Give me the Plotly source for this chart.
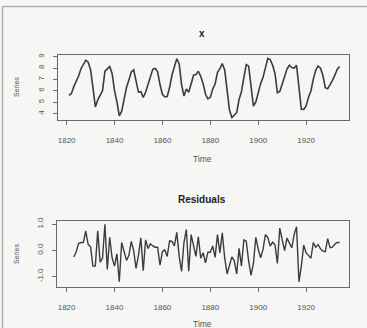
import plotly.graph_objects as go

# Annual series (log of lynx trappings), 1821-1934
years = list(range(1821, 1935))
x_values = [
    5.60, 5.77, 6.37, 6.77, 7.30, 7.94, 8.28, 8.69, 8.51, 7.85,
    6.26, 4.58, 5.21, 5.63, 6.01, 7.73, 7.90, 8.13, 7.51, 6.01,
    5.02, 3.81, 4.22, 5.36, 6.30, 6.94, 7.66, 7.84, 6.86, 5.89,
    5.93, 5.42, 5.89, 6.59, 7.40, 7.91, 7.96, 7.66, 6.53, 5.70,
    5.46, 5.50, 6.31, 7.39, 8.11, 8.81, 8.36, 6.53, 5.54, 6.16,
    5.88, 6.66, 7.37, 7.42, 7.72, 7.26, 6.63, 5.70, 5.30, 5.43,
    6.15, 6.60, 7.62, 7.94, 8.40, 7.83, 5.96, 4.29, 3.66, 3.89,
    4.08, 5.24, 5.93, 7.16, 8.30, 8.16, 6.38, 4.65, 5.03, 5.96,
    6.63, 7.18, 8.15, 8.85, 8.75, 8.24, 7.52, 5.84, 5.95, 6.70,
    7.24, 7.91, 8.24, 8.04, 8.00, 8.24, 6.51, 4.39, 4.38, 4.68,
    5.43, 5.99, 7.03, 7.80, 8.18, 7.98, 7.34, 6.27, 6.18, 6.50,
    6.91, 7.37, 7.89, 8.13,
]

# Residuals, 1823-1934
res_years = list(range(1823, 1935))
residuals = [
    -0.25, -0.05, 0.26, 0.30, 0.30, 0.74, 0.23, 0.14, -0.60, -0.60,
    0.75, -0.45, -0.30, 1.00, -0.73, 0.50, -0.28, -0.60, -0.13, -1.20,
    0.30, -0.05, -0.38, -0.20, 0.34, -0.01, -0.69, -0.19, 0.48, -0.78,
    0.40, 0.07, 0.25, 0.17, 0.12, 0.12, -0.56, -0.05, 0.02, -0.23,
    0.36, 0.34, 0.17, 0.69, -0.22, -0.80, 0.30, 0.80, -0.80, 0.60,
    0.12, -0.23, 0.52, -0.30, -0.09, -0.48, -0.07, -0.07, 0.17, -0.27,
    0.60, -0.10, 0.67, -0.29, -0.90, -0.55, -0.25, -0.40, -0.90, 0.08,
    -0.60, 0.40, 0.35, -0.40, -0.95, -0.50, 0.50, 0.05, -0.28, 0.03,
    0.60, 0.50, 0.16, 0.31, 0.21, -0.50, 0.85, 0.41, -0.01, 0.47,
    0.28, 0.10, 0.60, 0.90, -1.20, -0.60, 0.20, -0.10, -0.19, -0.30,
    0.30, 0.12, 0.22, 0.06, -0.03, -0.05, 0.45, 0.10, 0.12, 0.24,
    0.30, 0.30,
]

x_ticks = [1820, 1840, 1860, 1880, 1900, 1920]
top_y_ticks = [4, 5, 6, 7, 8, 9]
top_y_labels = ["4", "5", "6", "7", "8", "9"]
bot_y_ticks = [-1.0, 0.0, 1.0]
bot_y_labels = ["-1.0", "0.0", "1.0"]

W, H = 367, 328
FONT = "Liberation Sans, Arial, sans-serif"
LINE = "#3c3c3c"
AX = "#6a6a6a"
TXT = "#555555"

fig = go.Figure()
fig.add_trace(go.Scatter(x=years, y=x_values, mode="lines",
                         line=dict(color=LINE, width=1.6),
                         xaxis="x", yaxis="y", showlegend=False))
fig.add_trace(go.Scatter(x=res_years, y=residuals, mode="lines",
                         line=dict(color=LINE, width=1.4),
                         xaxis="x2", yaxis="y2", showlegend=False))

def px_x(p):
    return p / W

def px_y(p):
    return 1 - p / H

common_x = dict(showline=True, linecolor=AX, linewidth=1, mirror=True,
                ticks="outside", ticklen=4, tickcolor=AX, tickwidth=1,
                showgrid=False, zeroline=False, tickvals=x_ticks,
                ticktext=[str(v) for v in x_ticks],
                tickfont=dict(family=FONT, size=8, color=TXT),
                ticklabelstandoff=9)
common_y = dict(showline=True, linecolor=AX, linewidth=1, mirror=True,
                ticks="outside", ticklen=4, tickcolor=AX, tickwidth=1,
                showgrid=False, zeroline=False, tickangle=-90,
                tickfont=dict(family=FONT, size=8, color=TXT),
                ticklabelstandoff=6)

fig.update_layout(
    width=W, height=H,
    margin=dict(l=0, r=0, t=0, b=0),
    paper_bgcolor="#f6f6f4",
    plot_bgcolor="#f6f6f4",
    xaxis=dict(common_x, domain=[px_x(58), px_x(349)], range=[1816.4, 1937.9], anchor="y"),
    yaxis=dict(common_y, domain=[px_y(117), px_y(52)], range=[3.48, 9.11], anchor="x",
               tickvals=top_y_ticks, ticktext=top_y_labels),
    xaxis2=dict(common_x, domain=[px_x(57), px_x(349)], range=[1816.0, 1937.9], anchor="y2"),
    yaxis2=dict(common_y, domain=[px_y(286), px_y(220)], range=[-1.38, 1.11], anchor="x2",
                tickvals=bot_y_ticks, ticktext=bot_y_labels),
)

ann = []
def text(t, xp, yp, size, bold=False, angle=0, color="#333333"):
    ann.append(dict(text=("<b>%s</b>" % t) if bold else t, x=px_x(xp), y=px_y(yp),
                    xref="paper", yref="paper", showarrow=False, textangle=angle,
                    xanchor="center", yanchor="middle",
                    font=dict(family=FONT, size=size, color=color)))

text("x", 202, 30, 10, bold=True, color="#222222")
text("Residuals", 202, 198, 10, bold=True, color="#222222")
text("Time", 202, 157, 8.5, color=TXT)
text("Time", 202, 324, 8.5, color=TXT)
text("Series", 17, 84, 7, angle=-90, color=TXT)
text("Series", 17, 253, 7, angle=-90, color=TXT)
fig.update_layout(annotations=ann)

# outer frame lines (top and left)
fig.add_shape(type="line", xref="paper", yref="paper", x0=px_x(2.5), x1=1, y0=px_y(2.5), y1=px_y(2.5),
              line=dict(color="#b0b0b0", width=1.5))
fig.add_shape(type="line", xref="paper", yref="paper", x0=px_x(2.5), x1=px_x(2.5), y0=0, y1=px_y(2.5),
              line=dict(color="#b0b0b0", width=1.5))

fig.write_html("out.html")
